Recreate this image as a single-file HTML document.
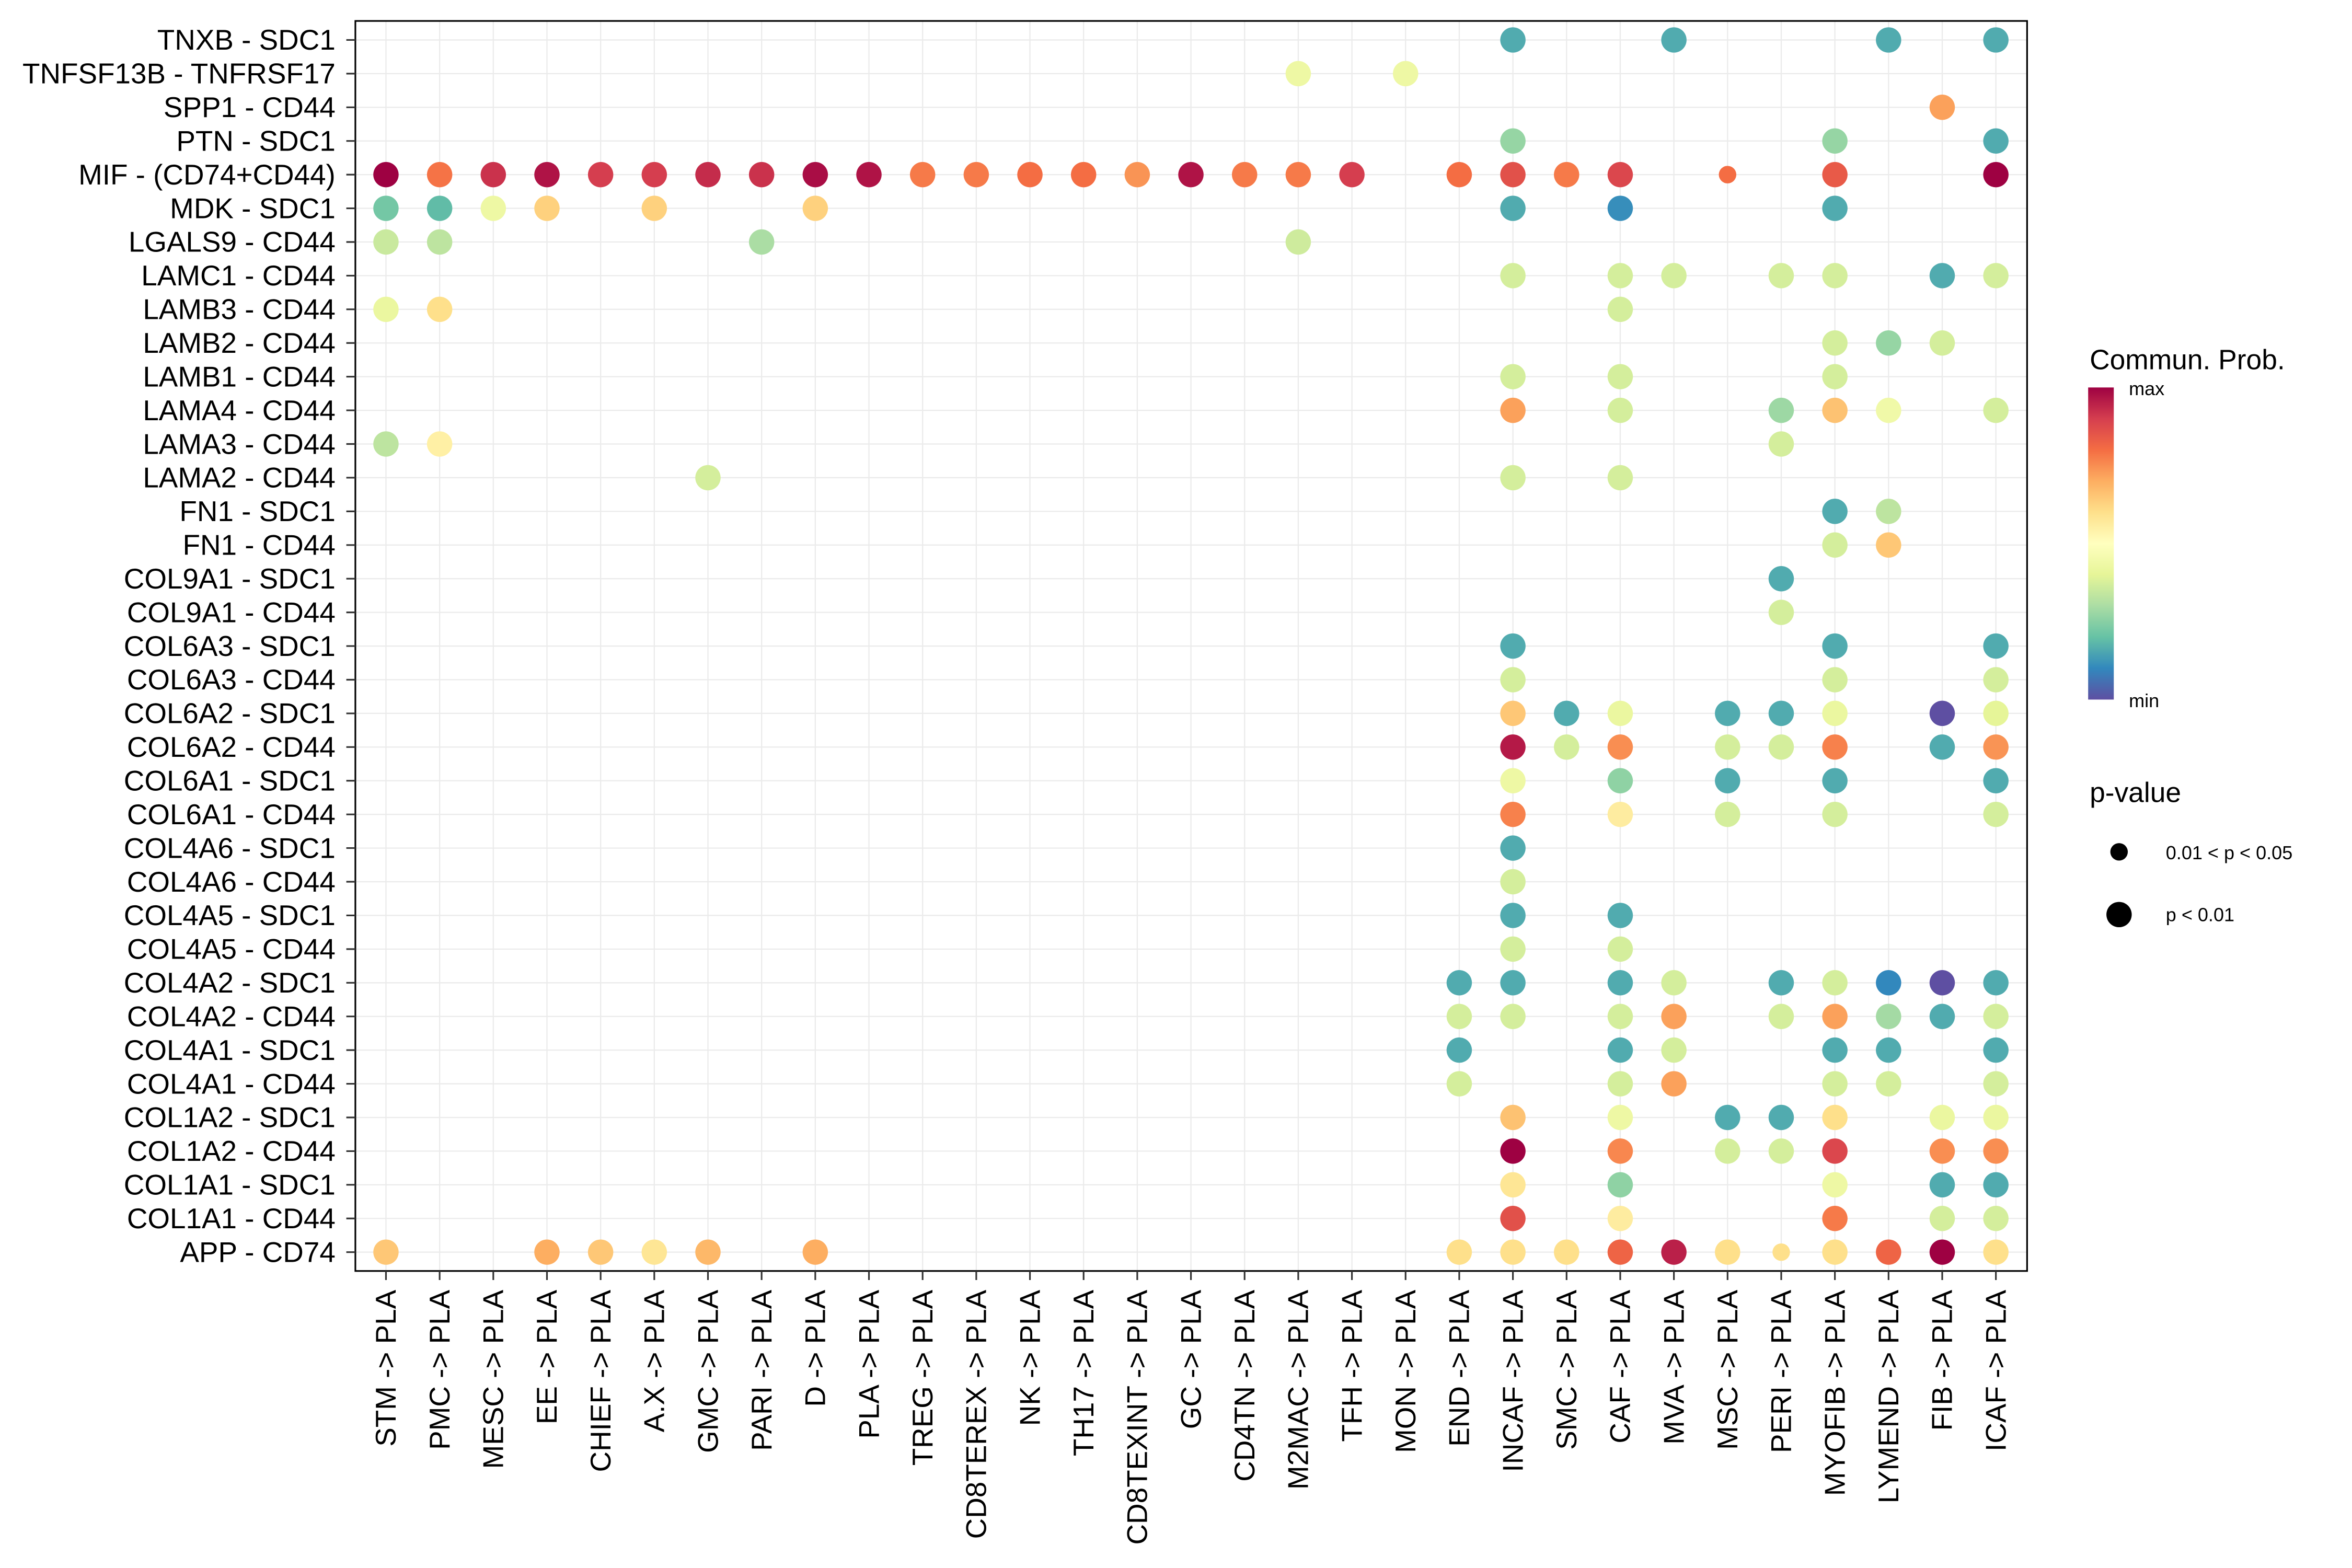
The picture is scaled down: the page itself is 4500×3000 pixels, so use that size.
<!DOCTYPE html>
<html><head><meta charset="utf-8"><style>
html,body{margin:0;padding:0;background:#fff;}
svg{display:block;font-family:"Liberation Sans",sans-serif;}
</style></head><body>
<svg id="chart" width="4500" height="3000" viewBox="0 0 1560 1040" xmlns="http://www.w3.org/2000/svg">
<defs>
<linearGradient id="spec" x1="0" y1="1" x2="0" y2="0">
<stop offset="0" stop-color="#5E4FA2"/><stop offset="0.1" stop-color="#3288BD"/><stop offset="0.2" stop-color="#66C2A5"/><stop offset="0.3" stop-color="#ABDDA4"/><stop offset="0.4" stop-color="#E6F598"/><stop offset="0.5" stop-color="#FFFFBF"/><stop offset="0.6" stop-color="#FEE08B"/><stop offset="0.7" stop-color="#FDAE61"/><stop offset="0.8" stop-color="#F46D43"/><stop offset="0.9" stop-color="#D53E4F"/><stop offset="1" stop-color="#9E0142"/>
</linearGradient>
</defs>
<g id="grid"></g>
<g id="dots"></g>
<rect x="235.7" y="13.9" width="1108.8" height="829.1" fill="none" stroke="#000" stroke-width="1.1"/>
<g id="yaxis"></g>
<g id="xaxis"></g>
<g>
<text x="1386" y="245" font-size="18.5">Commun. Prob.</text>
<rect x="1385" y="257" width="17" height="207" fill="url(#spec)"/>
<text x="1412" y="262" font-size="12.5">max</text>
<text x="1412" y="469" font-size="12.5">min</text>
</g>
<g>
<text x="1386" y="532" font-size="18.5">p-value</text>
<circle cx="1405.5" cy="565" r="5.8" fill="#000"/>
<text x="1436.5" y="570" font-size="12.5">0.01 &lt; p &lt; 0.05</text>
<circle cx="1405.5" cy="606.6" r="8.4" fill="#000"/>
<text x="1436.5" y="611" font-size="12.5">p &lt; 0.01</text>
</g>
</svg>
<script>
const sources = ["STM","PMC","MESC","EE","CHIEF","A.X","GMC","PARI","D","PLA","TREG","CD8TEREX","NK","TH17","CD8TEXINT","GC","CD4TN","M2MAC","TFH","MON","END","INCAF","SMC","CAF","MVA","MSC","PERI","MYOFIB","LYMEND","FIB","ICAF"];
const pairs = ["TNXB - SDC1","TNFSF13B - TNFRSF17","SPP1 - CD44","PTN - SDC1","MIF - (CD74+CD44)","MDK - SDC1","LGALS9 - CD44","LAMC1 - CD44","LAMB3 - CD44","LAMB2 - CD44","LAMB1 - CD44","LAMA4 - CD44","LAMA3 - CD44","LAMA2 - CD44","FN1 - SDC1","FN1 - CD44","COL9A1 - SDC1","COL9A1 - CD44","COL6A3 - SDC1","COL6A3 - CD44","COL6A2 - SDC1","COL6A2 - CD44","COL6A1 - SDC1","COL6A1 - CD44","COL4A6 - SDC1","COL4A6 - CD44","COL4A5 - SDC1","COL4A5 - CD44","COL4A2 - SDC1","COL4A2 - CD44","COL4A1 - SDC1","COL4A1 - CD44","COL1A2 - SDC1","COL1A2 - CD44","COL1A1 - SDC1","COL1A1 - CD44","APP - CD74"];
// each entry: [sourceIndex, relative prob (0=min,1=max), pSmall(1 = 0.01<p<0.05)]
const rowValues = [
[[21,.16],[24,.16],[28,.16],[30,.16]],
[[17,.43],[19,.43]],
[[29,.72]],
[[21,.27],[27,.27],[30,.16]],
[[0,1],[1,.79],[2,.92],[3,.97],[4,.9],[5,.9],[6,.93],[7,.92],[8,.98],[9,.97],[10,.78],[11,.78],[12,.8],[13,.8],[14,.74],[15,.97],[16,.78],[17,.78],[18,.9],[20,.8],[21,.86],[22,.78],[23,.88],[25,.8,1],[27,.84],[30,1]],
[[0,.22],[1,.19],[2,.43],[3,.63],[5,.63],[8,.63],[21,.16],[23,.11],[27,.16]],
[[0,.35],[1,.33],[7,.3],[17,.36]],
[[21,.37],[23,.37],[24,.37],[26,.37],[27,.37],[29,.16],[30,.37]],
[[0,.42],[1,.6],[23,.37]],
[[27,.37],[28,.27],[29,.37]],
[[21,.37],[23,.37],[27,.37]],
[[21,.72],[23,.37],[26,.28],[27,.66],[28,.44],[30,.37]],
[[0,.33],[1,.55],[26,.37]],
[[6,.37],[21,.37],[23,.37]],
[[27,.16],[28,.33]],
[[27,.37],[28,.65]],
[[26,.16]],
[[26,.37]],
[[21,.16],[27,.16],[30,.16]],
[[21,.37],[27,.37],[30,.37]],
[[21,.65],[22,.16],[23,.42],[25,.16],[26,.16],[27,.42],[29,0],[30,.4]],
[[21,.96],[22,.37],[23,.75],[25,.37],[26,.37],[27,.77],[29,.16],[30,.74]],
[[21,.43],[23,.26],[25,.16],[27,.16],[30,.16]],
[[21,.77],[23,.56],[25,.37],[27,.37],[30,.37]],
[[21,.16]],
[[21,.37]],
[[21,.16],[23,.16]],
[[21,.37],[23,.37]],
[[20,.16],[21,.16],[23,.16],[24,.37],[26,.16],[27,.37],[28,.1],[29,0],[30,.16]],
[[20,.37],[21,.37],[23,.37],[24,.72],[26,.37],[27,.72],[28,.29],[29,.16],[30,.37]],
[[20,.16],[23,.16],[24,.37],[27,.16],[28,.16],[30,.16]],
[[20,.37],[23,.37],[24,.72],[27,.37],[28,.37],[30,.37]],
[[21,.66],[23,.43],[25,.16],[26,.16],[27,.6],[29,.42],[30,.42]],
[[21,1],[23,.76],[25,.37],[26,.37],[27,.88],[29,.75],[30,.75]],
[[21,.58],[23,.26],[27,.43],[29,.16],[30,.16]],
[[21,.86],[23,.56],[27,.78],[29,.37],[30,.37]],
[[0,.65],[3,.7],[4,.65],[5,.58],[6,.68],[8,.7],[20,.6],[21,.6],[22,.6],[23,.82],[24,.95],[25,.6],[26,.6,1],[27,.6],[28,.82],[29,1],[30,.6]]
];
const NS="http://www.w3.org/2000/svg";
const x0=256, x1=1323.8, y0=26.5, y1=830.5;
const PL=235.7, PR=1344.5, PT=13.9, PB=843;
function xScale(i){return x0+(x1-x0)*i/(sources.length-1);}
function yScale(j){return y0+(y1-y0)*j/(pairs.length-1);}
const stops=["#5E4FA2","#3288BD","#66C2A5","#ABDDA4","#E6F598","#FFFFBF","#FEE08B","#FDAE61","#F46D43","#D53E4F","#9E0142"];
function hex(h){return [1,3,5].map(k=>parseInt(h.substr(k,2),16));}
function color(v){v=Math.max(0,Math.min(1,v))*10;const i=Math.min(9,Math.floor(v)),t=v-i;const a=hex(stops[i]),b=hex(stops[i+1]);return "rgb("+a.map((c,k)=>Math.round(c+(b[k]-c)*t)).join(",")+")";}
function mk(tag,attrs,parent){const e=document.createElementNS(NS,tag);for(const k in attrs)e.setAttribute(k,attrs[k]);parent.appendChild(e);return e;}
const grid=document.getElementById('grid'),dots=document.getElementById('dots'),ya=document.getElementById('yaxis'),xa=document.getElementById('xaxis');
sources.forEach((s,i)=>{
  const x=xScale(i);
  const gl=mk('line',{x1:x,x2:x,y1:PT,y2:PB,stroke:'#EBEBEB','stroke-width':0.8},grid);
  
  
  const tk=mk('line',{x1:x,x2:x,y1:PB,y2:PB+6,stroke:'#333','stroke-width':1.1},xa);
  
  
  const t=mk('text',{transform:'translate('+(x+6.5)+',855.5) rotate(-90)','text-anchor':'end','font-size':19},xa);
  t.textContent=s+' -> PLA';
  
  
});
pairs.forEach((p,j)=>{
  const y=yScale(j);
  const gl=mk('line',{x1:PL,x2:PR,y1:y,y2:y,stroke:'#EBEBEB','stroke-width':0.8},grid);
  
  
  const tk=mk('line',{x1:PL-6,x2:PL,y1:y,y2:y,stroke:'#333','stroke-width':1.1},ya);
  
  
  const t=mk('text',{x:222.5,y:y+6.5,'text-anchor':'end','font-size':19},ya);
  t.textContent=p;
  
  
  rowValues[j].forEach(d=>{
    const c=mk('circle',{cx:xScale(d[0]),cy:y,r:d[2]?5.8:8.4,fill:color(d[1])},dots);
    
    
  });
});
</script>
</body></html>
